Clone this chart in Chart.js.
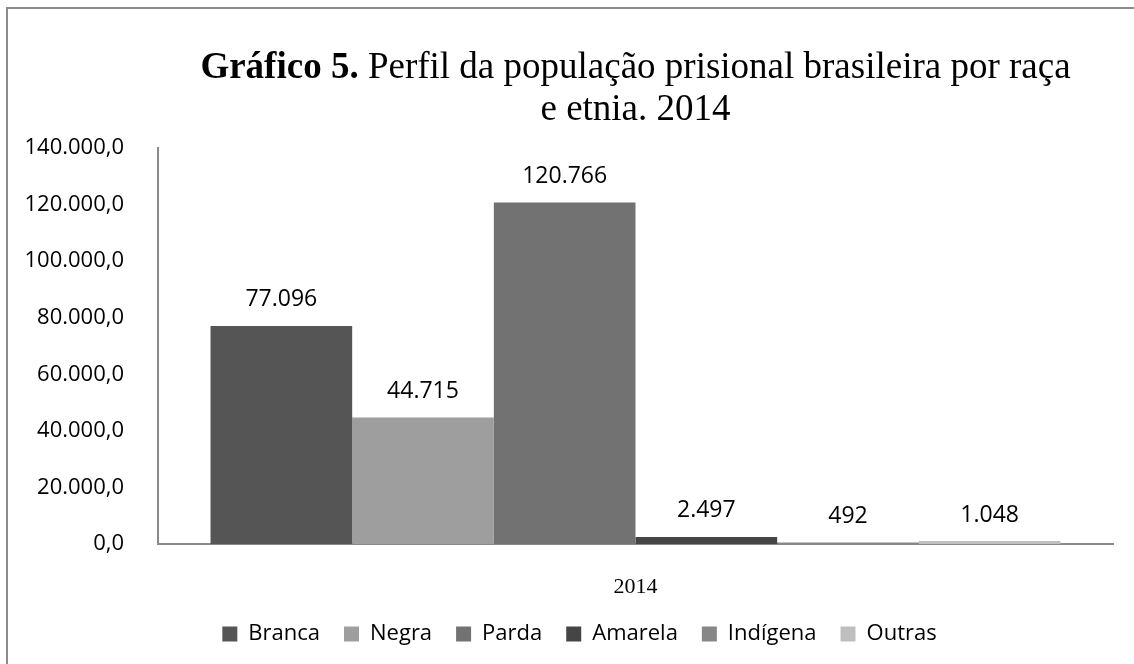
<!DOCTYPE html>
<html lang="pt-BR">
<head>
<meta charset="utf-8">
<title>Gráfico 5</title>
<script src="https://cdn.jsdelivr.net/npm/chart.js@4"></script>
<style>
  html, body { margin: 0; padding: 0; background: #fff; }
  #wrap { width: 1134px; height: 664px; }
</style>
</head>
<body>
<div id="wrap"><canvas id="chart" width="1134" height="664"></canvas></div>
<script>
// dados
const categories = ["2014"];
const seriesNames = ["Branca", "Negra", "Parda", "Amarela", "Indígena", "Outras"];
const seriesValues = [77096, 44715, 120766, 2497, 492, 1048];
const yMax = 140000;
const yStep = 20000;

const titleBold = "Gráfico 5.";
const titleRest = " Perfil da população prisional brasileira por raça";
const titleLine2 = "e etnia. 2014";

// estilos
const seriesColors = ["#555555", "#9e9e9e", "#727272", "#454545", "#878787", "#bfbfbf"];
const axisColor = "#8a8a8a";
const sansFont = "'Open Sans', sans-serif";
const serifFont = "'Liberation Serif', 'Times New Roman', serif";

const formatThousands = (n) =>
  String(Math.round(n)).replace(/\B(?=(\d{3})+(?!\d))/g, ".");

const frameBorder = {
  id: "frameBorder",
  beforeDraw(chart) {
    const ctx = chart.ctx;
    ctx.save();
    ctx.fillStyle = "#fff";
    ctx.fillRect(0, 0, chart.width, chart.height);
    ctx.strokeStyle = "#8c8c8c";
    ctx.lineWidth = 2;
    ctx.strokeRect(7, 8, chart.width + 20, chart.height + 20);
    ctx.restore();
  },
};

// legenda centralizada um pouco à direita, como no original
const legendShift = {
  id: "legendShift",
  afterLayout(chart) {
    if (chart.legend) chart.legend.left += 46;
  },
};

const twoPartTitle = {
  id: "twoPartTitle",
  afterDraw(chart) {
    const ctx = chart.ctx;
    const area = chart.chartArea;
    const cx = (area.left + area.right) / 2;
    ctx.save();
    ctx.fillStyle = "#000";
    ctx.textBaseline = "alphabetic";
    ctx.textAlign = "left";
    ctx.font = "bold 37px " + serifFont;
    const wb = ctx.measureText(titleBold).width;
    ctx.font = "37px " + serifFont;
    const wr = ctx.measureText(titleRest).width;
    const x = cx - (wb + wr) / 2;
    ctx.font = "bold 37px " + serifFont;
    ctx.fillText(titleBold, x, 78);
    ctx.font = "37px " + serifFont;
    ctx.fillText(titleRest, x + wb, 78);
    ctx.textAlign = "center";
    ctx.fillText(titleLine2, cx, 120);
    ctx.restore();
  },
};

const barValues = {
  id: "barValues",
  afterDatasetsDraw(chart) {
    const ctx = chart.ctx;
    ctx.save();
    ctx.font = "23px " + sansFont;
    ctx.fillStyle = "#000";
    ctx.textAlign = "center";
    ctx.textBaseline = "middle";
    chart.data.datasets.forEach((ds, i) => {
      const meta = chart.getDatasetMeta(i);
      meta.data.forEach((bar, j) => {
        ctx.fillText(formatThousands(ds.data[j]), bar.x, bar.y - 26);
      });
    });
    ctx.restore();
  },
};

const datasets = seriesNames.map((name, i) => ({
  label: name,
  data: [seriesValues[i]],
  backgroundColor: seriesColors[i],
  borderWidth: 0,
  categoryPercentage: 0.89,
  barPercentage: 1,
}));

new Chart(document.getElementById("chart"), {
  type: "bar",
  data: { labels: categories, datasets: datasets },
  plugins: [frameBorder, legendShift, twoPartTitle, barValues],
  options: {
    responsive: false,
    animation: false,
    layout: { padding: { left: 0, right: 21, top: 148, bottom: 9 } },
    plugins: {
      title: { display: false },
      tooltip: { enabled: false },
      legend: {
        position: "bottom",
        labels: {
          boxWidth: 15,
          boxHeight: 15,
          padding: 24,
          color: "#000",
          font: { family: sansFont, size: 22, lineHeight: 1 },
        },
      },
    },
    scales: {
      x: {
        grid: { display: false },
        border: { color: axisColor, width: 2 },
        ticks: {
          color: "#000",
          padding: 22,
          font: { family: serifFont, size: 22 },
        },
        afterFit: (s) => { s.height = 55; },
      },
      y: {
        min: 0,
        max: yMax,
        grid: { display: false, drawTicks: false },
        border: { color: axisColor, width: 2 },
        ticks: {
          stepSize: yStep,
          color: "#000",
          padding: 34,
          font: { family: sansFont, size: 22 },
          callback: (v) => formatThousands(v) + ",0",
        },
        afterFit: (s) => { s.width = 158; },
      },
    },
  },
});
</script>
</body>
</html>
